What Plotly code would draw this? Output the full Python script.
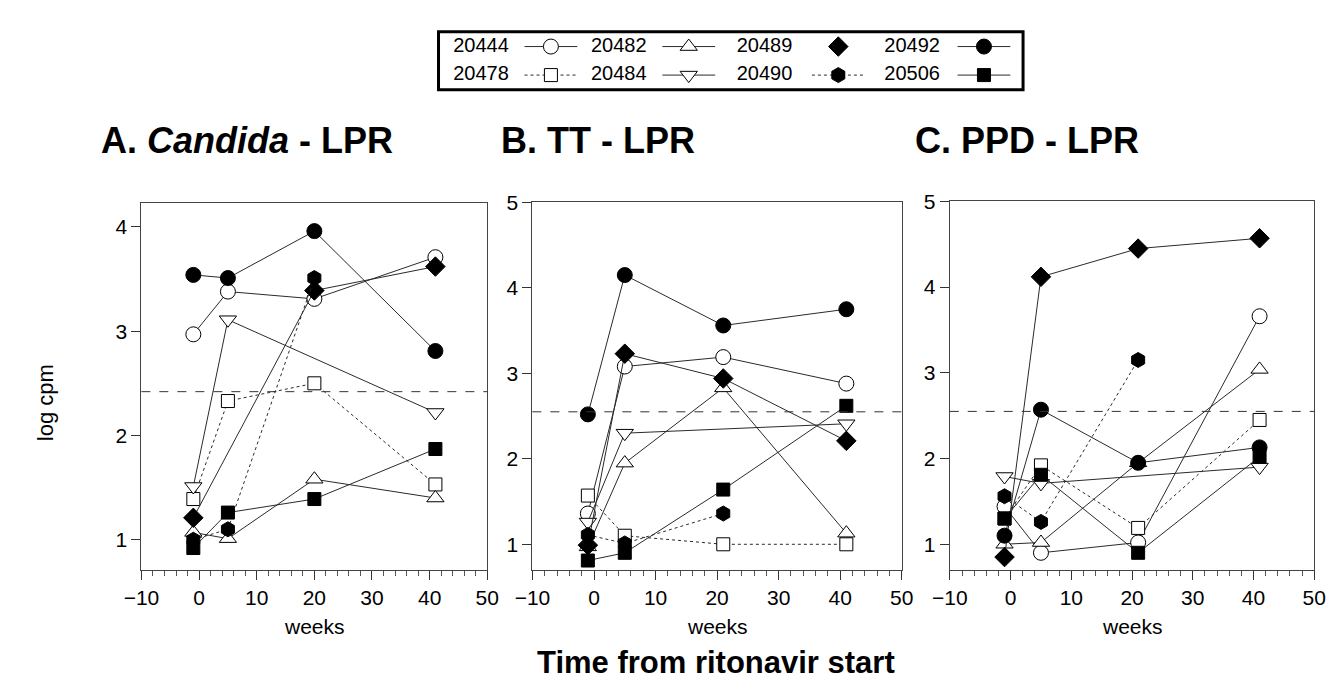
import plotly.graph_objects as go

W, H = 1334, 679

# ---------------- data ----------------
patients = ["20444", "20478", "20482", "20484", "20489", "20490", "20492", "20506"]
weeks_A = [-1, 5, 20, 41]
weeks_BC = [-1, 5, 21, 41]

# A. Candida - LPR (log cpm)
cand_20444 = [2.97, 3.38, 3.31, 3.71]
cand_20478 = [1.39, 2.33, 2.50, 1.53]
cand_20482 = [1.07, 1.01, 1.58, 1.40]
cand_20484 = [1.51, 3.11, None, 2.22]
cand_20489 = [1.21, None, 3.39, 3.62]
cand_20490 = [1.00, 1.10, 3.51, None]
cand_20492 = [3.54, 3.51, 3.96, 2.81]
cand_20506 = [0.92, 1.26, 1.39, 1.87]

# B. TT - LPR
tt_20444 = [1.36, 3.08, 3.19, 2.88]
tt_20478 = [1.57, 1.10, 1.00, 1.00]
tt_20482 = [0.97, 1.95, 2.83, 1.13]
tt_20484 = [1.26, 2.30, None, 2.41]
tt_20489 = [0.99, 3.23, 2.94, 2.21]
tt_20490 = [1.11, 1.01, 1.36, None]
tt_20492 = [2.52, 4.15, 3.56, 3.75]
tt_20506 = [0.81, 0.90, 1.64, 2.62]

# C. PPD - LPR
ppd_20444 = [1.44, 0.90, 1.02, 3.66]
ppd_20478 = [1.30, 1.92, 1.19, 2.45]
ppd_20482 = [1.00, 1.02, 1.95, 3.04]
ppd_20484 = [1.79, 1.71, None, 1.90]
ppd_20489 = [0.85, 4.12, 4.45, 4.57]
ppd_20490 = [1.56, 1.26, 3.15, None]
ppd_20492 = [1.10, 2.57, 1.95, 2.13]
ppd_20506 = [1.30, 1.81, 0.90, 2.02]

# positivity cut-off (dashed line) per panel
cutoff = [2.42, 2.55, 2.55]

panel_titles = ["A. <i>Candida</i> - LPR", "B. TT - LPR", "C. PPD - LPR"]
x_ticks = [-10, 0, 10, 20, 30, 40, 50]

panels = [
    (weeks_A, [cand_20444, cand_20478, cand_20482, cand_20484, cand_20489, cand_20490, cand_20492, cand_20506]),
    (weeks_BC, [tt_20444, tt_20478, tt_20482, tt_20484, tt_20489, tt_20490, tt_20492, tt_20506]),
    (weeks_BC, [ppd_20444, ppd_20478, ppd_20482, ppd_20484, ppd_20489, ppd_20490, ppd_20492, ppd_20506]),
]

# ---------------- styles ----------------
symbols = ["circle", "square", "triangle-up", "triangle-down", "diamond", "hexagon", "circle", "square"]
fills = ["white", "white", "white", "white", "black", "black", "black", "black"]
sizes = [15, 13, 15, 15, 15, 15, 15, 13]
dashes = ["solid", "dot", "solid", "solid", "solid", "dot", "solid", "solid"]
legend_line = [True, True, True, True, False, True, True, True]
LINE = "#2a2a2a"
FONT = "Arial, Liberation Sans, sans-serif"

def px(x):
    return x / W

def py(y):
    return 1 - y / H

# panel pixel boxes (left, right, top, bottom)
boxes = [(118, 472, 187, 560), (518, 896, 186, 560), (945, 1318, 185, 560)]
y_ranges = [[0.71, 4.23], [0.70, 5.005], [0.70, 5.005]]

fig = go.Figure()

for p, (wk, series) in enumerate(panels):
    ax = "" if p == 0 else str(p + 1)
    for i, vals in enumerate(series):
        fig.add_trace(go.Scatter(
            x=wk, y=vals, mode="lines+markers", connectgaps=True,
            xaxis="x" + ax, yaxis="y" + ax, showlegend=False,
            line=dict(color=LINE, width=1, dash=dashes[i]),
            marker=dict(symbol=symbols[i], size=sizes[i], color=fills[i],
                        line=dict(color="black", width=1)),
            name=patients[i], hovertemplate=patients[i] + ": %{y}<extra></extra>",
        ))
    l, r, t, b = boxes[p]
    xa = dict(domain=[px(l), px(r)], range=[-10.02, 50.02], tickvals=x_ticks,
              ticks="outside", ticklen=9, tickwidth=1, tickcolor="#333",
              minor=dict(dtick=2, tick0=0, ticks="outside", ticklen=5, tickcolor="#555"),
              showgrid=False, zeroline=False, showline=True, linecolor="#444",
              linewidth=1, mirror=True, anchor="y" + ax,
              tickfont=dict(family=FONT, size=21, color="black"))
    ya = dict(domain=[py(b), py(t)], range=y_ranges[p], dtick=1, tick0=0,
              ticks="outside", ticklen=9, tickwidth=1, tickcolor="#333",
              showgrid=False, zeroline=False, showline=True, linecolor="#444",
              linewidth=1, mirror=True, anchor="x" + ax,
              tickfont=dict(family=FONT, size=21, color="black"))
    fig.update_layout(**{"xaxis" + ax: xa, "yaxis" + ax: ya})
    # cut-off dashed line
    fig.add_shape(type="line", xref="x" + ax + " domain", yref="y" + ax,
                  x0=0, x1=1, y0=cutoff[p], y1=cutoff[p],
                  line=dict(color="#333", width=1, dash="dash"))
    # panel title
    fig.add_annotation(text="<b>" + panel_titles[p] + "</b>", xref="paper", yref="paper",
                       x=px([75, 484, 907][p]), y=py(123), xanchor="left", yanchor="middle",
                       showarrow=False, font=dict(family=FONT, size=36, color="black"))
    fig.add_annotation(text="weeks", xref="paper", yref="paper",
                       x=px((l + r) / 2), y=py(617), xanchor="center", yanchor="middle",
                       showarrow=False, borderpad=0, font=dict(family=FONT, size=21, color="black"))

fig.add_annotation(text="log cpm", xref="paper", yref="paper", x=px(20), y=py(390),
                   textangle=-90, xanchor="center", yanchor="middle", showarrow=False,
                   font=dict(family=FONT, size=22, color="black"))
fig.add_annotation(text="<b>Time from ritonavir start</b>", xref="paper", yref="paper",
                   x=px(706), y=py(654), xanchor="center", yanchor="middle", showarrow=False,
                   borderpad=0, font=dict(family=FONT, size=31, color="black"))

# ---------------- custom legend (text left, symbol right) ----------------
LG_L, LG_R, LG_T, LG_B = 422, 1020, 13, 72
text_x = [437, 578, 727, 878]
sym_x = [537, 678, 831, 980]
row_y = [28, 57]
half = 27
for i, pid in enumerate(patients):
    col, row = i // 2, i % 2
    fig.add_trace(go.Scatter(x=[text_x[col]], y=[row_y[row]], mode="text", text=[pid],
                             textposition="middle right", xaxis="x4", yaxis="y4",
                             showlegend=False, hoverinfo="skip",
                             textfont=dict(family=FONT, size=20, color="black")))
    if legend_line[i]:
        fig.add_trace(go.Scatter(x=[sym_x[col] - half, sym_x[col] + half], y=[row_y[row]] * 2,
                                 mode="lines", xaxis="x4", yaxis="y4", showlegend=False,
                                 hoverinfo="skip", line=dict(color=LINE, width=1, dash=dashes[i])))
    fig.add_trace(go.Scatter(x=[sym_x[col]], y=[row_y[row]], mode="markers", xaxis="x4", yaxis="y4",
                             showlegend=False, hoverinfo="skip",
                             marker=dict(symbol=symbols[i], size=sizes[i], color=fills[i],
                                         line=dict(color="black", width=1))))

fig.update_layout(
    xaxis4=dict(domain=[px(LG_L), px(LG_R)], range=[LG_L, LG_R], visible=False, anchor="y4"),
    yaxis4=dict(domain=[py(LG_B), py(LG_T)], range=[LG_B, LG_T], visible=False, anchor="x4"),
)
fig.add_shape(type="rect", xref="paper", yref="paper", x0=px(LG_L), x1=px(LG_R),
              y0=py(LG_B), y1=py(LG_T), line=dict(color="black", width=3))

fig.update_layout(width=W, height=H, margin=dict(l=0, r=0, t=0, b=0),
                  paper_bgcolor="white", plot_bgcolor="white", showlegend=False,
                  font=dict(family=FONT, color="black"))

fig.write_html("out.html")
